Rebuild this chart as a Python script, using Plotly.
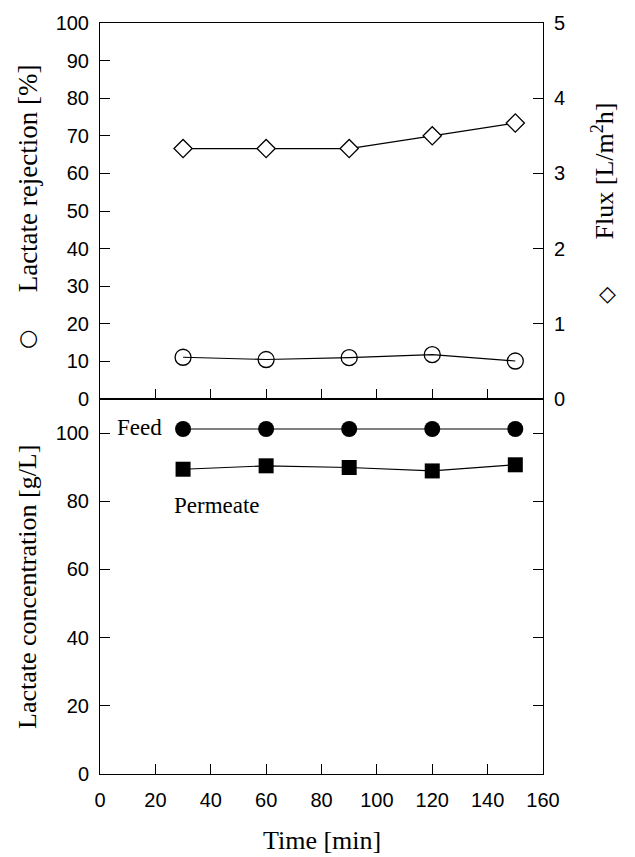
import plotly.graph_objects as go

# ---- data ----
time_min = [30, 60, 90, 120, 150]
rejection_pct = [11.1, 10.5, 11.0, 11.8, 10.1]
flux_lm2h = [3.33, 3.33, 3.33, 3.50, 3.67]
feed_gl = [101.2, 101.2, 101.2, 101.2, 101.2]
permeate_gl = [89.4, 90.4, 89.9, 88.9, 90.7]

x_ticks = [0, 20, 40, 60, 80, 100, 120, 140, 160]
rej_ticks = [0, 10, 20, 30, 40, 50, 60, 70, 80, 90, 100]
flux_ticks = [0, 1, 2, 3, 4, 5]
conc_ticks = [0, 20, 40, 60, 80, 100]

W, H = 635, 857
ML, MR, MT, MB = 100, 92, 15, 83
PW, PH = W - ML - MR, H - MT - MB
split = 379 / PH

def px(xp):
    return (xp - ML) / PW

def py(yp):
    return (H - MB - yp) / PH

SANS = "Liberation Sans, Arial, sans-serif"
SERIF = "Liberation Serif, Times New Roman, serif"
line = dict(color="black", width=1.2)

fig = go.Figure()
fig.add_trace(go.Scatter(x=time_min, y=rejection_pct, xaxis="x2", yaxis="y2",
                         mode="lines+markers", line=line,
                         marker=dict(symbol="circle-open", size=16, color="black", line=dict(width=1.3))))
fig.add_trace(go.Scatter(x=time_min, y=flux_lm2h, xaxis="x2", yaxis="y3",
                         mode="lines+markers", line=line,
                         marker=dict(symbol="diamond", size=14, color="white", line=dict(width=1.3, color="black"))))
fig.add_trace(go.Scatter(x=time_min, y=feed_gl, xaxis="x", yaxis="y",
                         mode="lines+markers", line=line,
                         marker=dict(symbol="circle", size=16, color="black")))
fig.add_trace(go.Scatter(x=time_min, y=permeate_gl, xaxis="x", yaxis="y",
                         mode="lines+markers", line=line,
                         marker=dict(symbol="square", size=15, color="black")))

tickfont = dict(family=SANS, size=20, color="black")
common = dict(showline=True, linecolor="black", linewidth=1, ticks="inside", ticklen=10,
              tickwidth=1, tickcolor="black", showgrid=False, zeroline=False, tickfont=tickfont)

fig.update_layout(
    width=W, height=H, autosize=False,
    margin=dict(l=ML, r=MR, t=MT, b=MB),
    paper_bgcolor="white", plot_bgcolor="white", showlegend=False,
    xaxis=dict(domain=[0, 1], anchor="y", range=[0, 160], tickvals=x_ticks,
               mirror=True, ticklabelstandoff=8, **common),
    yaxis=dict(domain=[0, split], anchor="x", range=[0, 110], tickvals=conc_ticks,
               mirror="ticks", ticklabelstandoff=6, **common),
    xaxis2=dict(domain=[0, 1], anchor="y2", range=[0, 160], tickvals=x_ticks,
                showticklabels=False, mirror=True, **common),
    yaxis2=dict(domain=[split, 1], anchor="x2", range=[0, 100], tickvals=rej_ticks,
                ticklabelstandoff=6, **common),
    yaxis3=dict(overlaying="y2", side="right", anchor="x2", range=[0, 5], tickvals=flux_ticks,
                ticklabelstandoff=6, **common),
)

ann_font = dict(family=SERIF, size=26, color="black")
sym_font = dict(family="DejaVu Sans", size=22, color="black")
annotations = [
    dict(text="Lactate rejection [%]", x=px(28), y=py(172), textangle=-90,
         font=dict(family=SERIF, size=27, color="black")),
    dict(text="○", x=px(28), y=py(333), font=sym_font),
    dict(text="Flux [L/m<sup>2</sup>h]", x=px(603), y=py(165), textangle=-90, font=ann_font),
    dict(text="◇", x=px(607), y=py(288), font=sym_font),
    dict(text="Lactate concentration [g/L]", x=px(28), y=py(585), textangle=-90, font=ann_font),
    dict(text="Time [min]", x=px(322), y=py(841), font=ann_font),
    dict(text="Feed", x=px(164), y=py(424), xanchor="right",
         font=dict(family=SERIF, size=23, color="black")),
    dict(text="Permeate", x=px(217), y=py(503),
         font=dict(family=SERIF, size=23, color="black")),
]
for a in annotations:
    a.setdefault("xanchor", "center")
    a.update(xref="paper", yref="paper", yanchor="middle", showarrow=False)
fig.update_layout(annotations=annotations)

fig.write_html("out.html")
